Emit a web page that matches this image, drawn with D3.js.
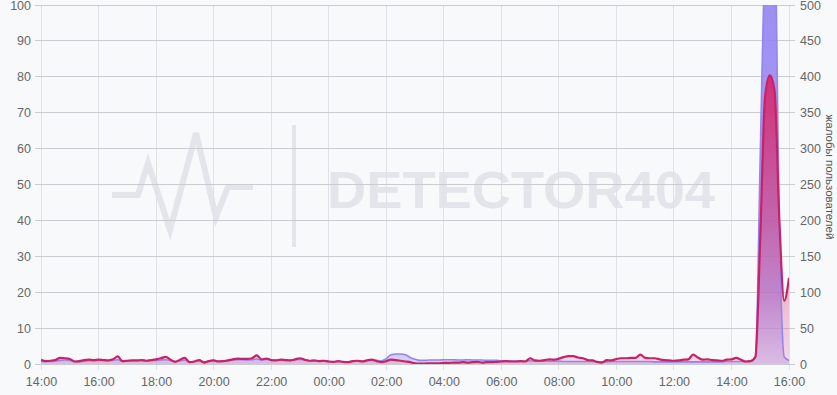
<!DOCTYPE html>
<html><head><meta charset="utf-8">
<script src="https://cdn.jsdelivr.net/npm/d3@7"></script>
<style>
html,body{margin:0;padding:0;background:#f8f9fb;}
svg{display:block;font-family:"Liberation Sans",Arial,sans-serif;}
</style>
</head><body>
<svg id="c" width="837" height="395"></svg>
<script>
// complaints (right axis, 0-500), one value every 10 minutes from 14:00 to 16:00 next day
const complaints = [
  6,4,4.5,5.5,8.5,8,7,3.5,4,5.5,6,5.5,6,
  5.5,5,6.5,10.5,4,4.5,5,5,5.5,4.5,5.5,6.5,
  8,10,6,3,6,8.5,2.5,3.5,5.5,2,4,5,
  3.5,4,5,6.5,7.5,7,7,8,12,6.5,7.5,5.5,
  5,6,5.5,5,6.5,8,6,4.5,5,4,4.5,3.5,
  3,4,3,2.5,4,4.5,3.5,5,6,4,2.5,4,6,
  5.5,4.5,3.5,2.5,1,0.5,0.5,1,1,1,1.5,
  1.5,2,2,2.5,2,2.5,3,2,2.5,2.5,3,3.5,
  4,3.5,3.5,4,3.5,8,5,4.5,5.5,6.5,6,7.5,9.5,11,
  11,9,8,5.5,5,3,2,5.5,5,7,8,8,8.5,8.5,
  13,8.5,8,8,6.5,5.5,5,4.5,5,6,6.5,13,9,
  6,6.5,5.5,5,4.5,6,6.5,8.5,6,3.5,4,
  10,175,372,402,380,198,88,120
];
// outage reports (left axis, 0-100)
const reports = [
  0.8,0.7,0.7,0.8,1.0,1.1,1.0,0.7,0.6,0.8,0.9,0.9,1.0,
  1.0,0.9,1.0,1.2,0.8,0.8,0.9,0.9,1.0,0.9,1.0,1.0,
  1.1,1.2,1.0,0.7,0.9,1.1,0.6,0.7,0.9,0.6,0.8,1.0,
  0.8,0.8,0.9,1.1,1.2,1.2,1.1,1.2,1.4,1.1,1.3,1.1,
  1.0,1.1,1.0,1.0,1.2,1.3,1.1,0.9,0.9,0.8,0.8,0.7,
  0.6,0.7,0.6,0.6,0.8,0.9,0.8,1.0,1.1,1.0,0.9,1.5,2.6,
  2.8,2.8,2.6,1.8,1.3,1.0,1.0,1.1,1.1,1.1,1.2,
  1.2,1.2,1.1,1.1,1.2,1.1,1.1,1.1,1.0,1.0,1.0,0.9,
  0.9,0.9,0.8,0.8,0.8,0.9,0.8,0.8,0.8,0.8,0.8,0.8,0.7,0.7,
  0.7,0.7,0.7,0.7,0.7,0.6,0.6,0.6,0.7,0.7,0.7,0.7,0.7,0.7,
  0.7,0.7,0.7,0.6,0.6,0.6,0.6,0.6,0.6,0.6,0.6,0.6,0.6,
  0.6,0.6,0.6,0.6,0.6,0.7,0.7,0.7,0.7,0.7,0.8,
  2,58,118,140,125,38,2,1
];
const leftTicks = [0,10,20,30,40,50,60,70,80,90,100];
const rightTicks = [0,50,100,150,200,250,300,350,400,450,500];
const startTime = new Date(2024,0,1,14,0);
const endTime = new Date(2024,0,2,16,0);
const stepMinutes = 10;
const rightTitle = "жалобы пользователей";
const watermarkText = "DETECTOR404";

const W = 837, H = 395;
const m = {top:5, right:48, bottom:31, left:41};
const svg = d3.select("#c");
svg.append("rect").attr("width",W).attr("height",H).attr("fill","#f8f9fb");

const times = complaints.map((_,i)=> d3.timeMinute.offset(startTime, i*stepMinutes));
const x = d3.scaleTime().domain([startTime,endTime]).range([m.left, W-m.right]);
const yL = d3.scaleLinear().domain([0,100]).range([H-m.bottom, m.top]);
const yR = d3.scaleLinear().domain([0,500]).range([H-m.bottom, m.top]);

// watermark
const wm = svg.append("g");
wm.append("polyline")
  .attr("points","112,195 138,195 148,163 170,230 196,133 216,217 228,187 253,187")
  .attr("fill","none").attr("stroke","#e3e5ea").attr("stroke-width",6)
  .attr("stroke-linejoin","miter");
wm.append("rect").attr("x",292).attr("y",125).attr("width",4).attr("height",122).attr("fill","#e3e5ea");
wm.append("text").attr("x",327).attr("y",208).attr("font-size",52).attr("font-weight","bold")
  .attr("font-family","'Liberation Sans',Arial,sans-serif")
  .attr("textLength",388).attr("lengthAdjust","spacingAndGlyphs")
  .attr("fill","#e3e5ea").text(watermarkText);

// grid
const xTicks = x.ticks(d3.timeHour.every(2));
svg.append("g").selectAll("line").data(xTicks).join("line")
  .attr("x1",d=>x(d)).attr("x2",d=>x(d)).attr("y1",m.top).attr("y2",H-m.bottom+6)
  .attr("stroke","#e0e1e6").attr("stroke-width",1).attr("shape-rendering","crispEdges");
svg.append("g").selectAll("line").data(leftTicks).join("line")
  .attr("x1",m.left-6).attr("x2",W-m.right+6).attr("y1",d=>yL(d)).attr("y2",d=>yL(d))
  .attr("stroke","#cbccd0").attr("stroke-width",1).attr("shape-rendering","crispEdges");

// gradients
const defs = svg.append("defs");
const g = defs.append("linearGradient").attr("id","rg").attr("gradientUnits","userSpaceOnUse")
  .attr("x1",0).attr("x2",0).attr("y1",yR(400)).attr("y2",yR(0));
g.append("stop").attr("offset",0).attr("stop-color","#d42a6e").attr("stop-opacity",0.95);
g.append("stop").attr("offset",0.5).attr("stop-color","#d4407e").attr("stop-opacity",0.6);
g.append("stop").attr("offset",1).attr("stop-color","#e07aa8").attr("stop-opacity",0.25);
const gp = defs.append("linearGradient").attr("id","pg").attr("gradientUnits","userSpaceOnUse")
  .attr("x1",0).attr("x2",0).attr("y1",yL(100)).attr("y2",yL(0));
gp.append("stop").attr("offset",0).attr("stop-color","#9586f1").attr("stop-opacity",0.92);
gp.append("stop").attr("offset",0.8).attr("stop-color","#9a8af2").attr("stop-opacity",0.8);
gp.append("stop").attr("offset",1).attr("stop-color","#a899f4").attr("stop-opacity",0.4);
defs.append("clipPath").attr("id","clip").append("rect")
  .attr("x",m.left).attr("y",m.top).attr("width",W-m.left-m.right).attr("height",H-m.top-m.bottom);

const plot = svg.append("g").attr("clip-path","url(#clip)");
const curve = d3.curveMonotoneX;
const areaP = d3.area().x((d,i)=>x(times[i])).y0(yL(0)).y1(d=>yL(d)).curve(curve);
const lineP = d3.line().x((d,i)=>x(times[i])).y(d=>yL(d)).curve(curve);
const areaR = d3.area().x((d,i)=>x(times[i])).y0(yR(0)).y1(d=>yR(d)).curve(curve);
const lineR = d3.line().x((d,i)=>x(times[i])).y(d=>yR(d)).curve(curve);

plot.append("path").datum(reports).attr("d",areaP).attr("fill","url(#pg)");
plot.append("path").datum(complaints).attr("d",areaR).attr("fill","url(#rg)");
plot.append("path").datum(reports).attr("d",lineP).attr("fill","none").attr("stroke","#9484f0").attr("stroke-width",1.6);
plot.append("path").datum(complaints).attr("d",lineR).attr("fill","none").attr("stroke","#cc2065").attr("stroke-width",2.2);

// axes
const axL = svg.append("g").attr("transform",`translate(${m.left},0)`)
  .call(d3.axisLeft(yL).tickValues(leftTicks).tickSize(0).tickPadding(10));
const axR = svg.append("g").attr("transform",`translate(${W-m.right},0)`)
  .call(d3.axisRight(yR).tickValues(rightTicks).tickSize(0).tickPadding(11));
const axB = svg.append("g").attr("transform",`translate(0,${H-m.bottom})`)
  .call(d3.axisBottom(x).ticks(d3.timeHour.every(2)).tickFormat(d3.timeFormat("%H:%M")).tickSize(0).tickPadding(13));
[axL,axR,axB].forEach(a=>{
  a.select(".domain").remove();
  a.selectAll("text").attr("fill","#666").attr("font-size",12.5).attr("font-family","'Liberation Sans',Arial,sans-serif");
});
svg.append("text").attr("transform",`translate(826,177) rotate(90)`)
  .attr("text-anchor","middle").attr("font-size",11.5).attr("fill","#555").text(rightTitle);
</script>
</body></html>
